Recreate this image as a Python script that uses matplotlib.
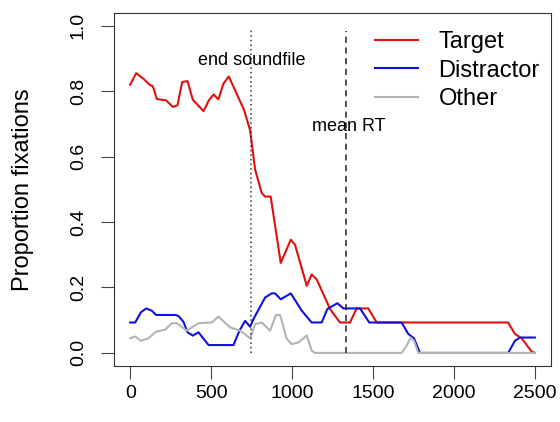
import numpy as np
import matplotlib
matplotlib.use("Agg")
import matplotlib.pyplot as plt

plt.rcParams["font.family"] = ["Liberation Sans", "DejaVu Sans"]

# data (time in ms, proportion of fixations)
target_t = [0, 37, 82, 119, 140, 165, 222, 263, 292, 321, 354, 387, 453, 486, 515, 545,
            576, 609, 658, 704, 741, 772, 813, 833, 868, 930, 992, 1018, 1091, 1121, 1152,
            1235, 1296, 1358, 1399, 1471, 1523, 2335, 2377, 2418, 2480, 2500]
target_p = [0.82, 0.855, 0.838, 0.82, 0.815, 0.776, 0.772, 0.752, 0.757, 0.828, 0.831, 0.774,
            0.739, 0.772, 0.79, 0.775, 0.823, 0.845, 0.792, 0.742, 0.68, 0.56, 0.488, 0.478,
            0.478, 0.275, 0.346, 0.331, 0.205, 0.24, 0.225, 0.134, 0.093, 0.093, 0.136, 0.136,
            0.093, 0.093, 0.058, 0.045, 0.004, 0.0]

distr_t = [0, 31, 66, 99, 134, 160, 278, 298, 329, 354, 387, 422, 484, 638, 675, 710, 741,
           761, 833, 874, 895, 930, 992, 1060, 1121, 1183, 1218, 1280, 1317, 1420, 1477, 1677,
           1718, 1753, 1790, 2335, 2377, 2407, 2500]
distr_p = [0.093, 0.093, 0.124, 0.136, 0.129, 0.116, 0.116, 0.113, 0.095, 0.063, 0.053, 0.063,
           0.024, 0.024, 0.068, 0.098, 0.08, 0.103, 0.169, 0.182, 0.182, 0.164, 0.182, 0.129,
           0.093, 0.093, 0.134, 0.152, 0.136, 0.136, 0.093, 0.093, 0.058, 0.045, 0.0, 0.0,
           0.037, 0.047, 0.047]

other_t = [0, 31, 66, 113, 160, 216, 257, 288, 350, 422, 504, 545, 617, 679, 741, 772, 813,
           864, 901, 926, 967, 998, 1039, 1091, 1121, 1142, 1677, 1708, 1733, 1753, 1780, 2500]
other_p = [0.045, 0.05, 0.037, 0.045, 0.065, 0.071, 0.091, 0.091, 0.068, 0.091, 0.093, 0.111,
           0.078, 0.068, 0.045, 0.088, 0.093, 0.068, 0.116, 0.116, 0.043, 0.027, 0.032, 0.053,
           0.007, 0.0, 0.0, 0.022, 0.047, 0.037, 0.0, 0.0]

end_soundfile = 747
mean_rt = 1333

#====PLOT======
fig = plt.figure(figsize=(5.6, 4.22), dpi=100)
ax = fig.add_axes([0.2036, 0.1327, 0.7804, 0.8372])

ax.plot(target_t, target_p, color="#e01010", lw=1.5, label="Target")
ax.plot(distr_t, distr_p, color="#1010e0", lw=1.5, label="Distractor")
ax.plot(other_t, other_p, color="#b4b4b4", lw=1.5, label="Other")

ax.plot([end_soundfile, end_soundfile], [0, 0.99], color="#333333", lw=1.1, ls=(0, (1, 2)))
ax.plot([mean_rt, mean_rt], [0, 0.985], color="#222222", lw=1.1, ls=(0, (4, 3)))
ax.text(end_soundfile + 5, 0.894, "end soundfile", ha="center", va="center", fontsize=13)
ax.text(mean_rt + 17, 0.693, "mean RT", ha="center", va="center", fontsize=13)

ax.set_xlim(-100, 2600)
ax.set_ylim(-0.04, 1.04)
ax.set_xticks([0, 500, 1000, 1500, 2000, 2500])
ax.set_yticks([0.0, 0.2, 0.4, 0.6, 0.8, 1.0])
ax.set_yticklabels(["0.0", "0.2", "0.4", "0.6", "0.8", "1.0"], rotation=90, va="center")
ax.tick_params(axis="both", direction="out", length=9.5, width=0.8, labelsize=14,
               color="#444444")
ax.tick_params(axis="x", pad=4)
ax.tick_params(axis="y", pad=10)
for s in ax.spines.values():
    s.set_linewidth(0.8)
    s.set_color("#333333")

ax.set_ylabel("Proportion fixations", fontsize=17, labelpad=26)

ax.legend(loc="upper right", bbox_to_anchor=(1.012, 0.995), frameon=False, fontsize=17,
          handlelength=1.85, handletextpad=0.85, labelspacing=0.28, borderaxespad=0.3)

plt.savefig("out.png", dpi=100)
